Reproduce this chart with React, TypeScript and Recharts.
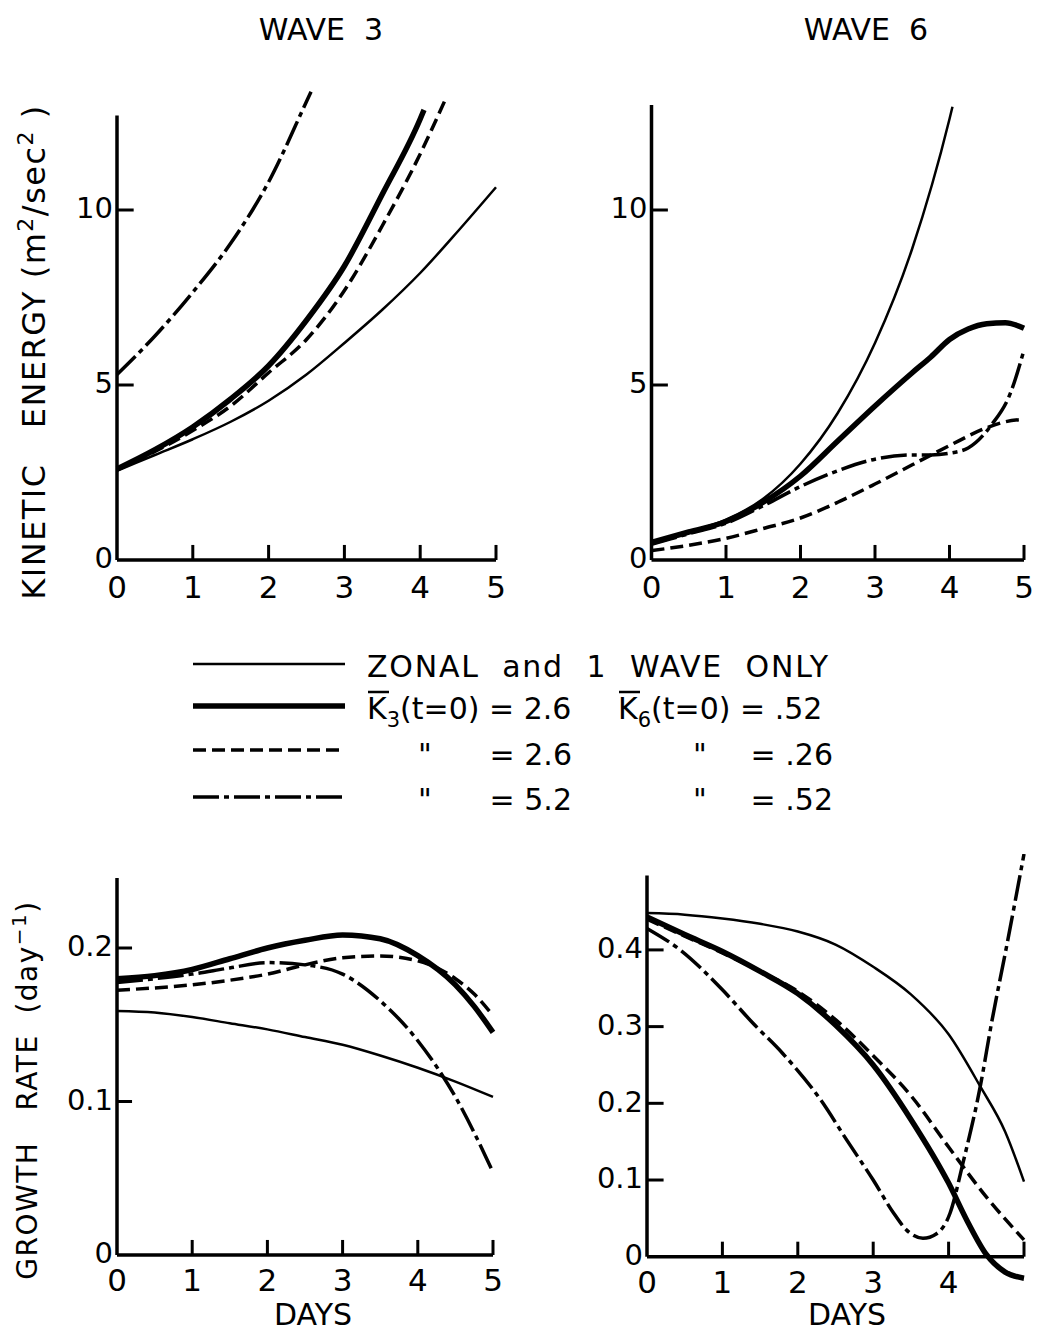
import { LineChart, Line, XAxis, YAxis, ReferenceLine } from "recharts";

type Pt = [number, number];

// Wave 3 kinetic energy (m^2/sec^2) against days
const ke3Zonal: Pt[] = [[0, 2.55], [0.5, 3.0], [1, 3.45], [1.5, 3.95], [2, 4.55], [2.5, 5.3], [3, 6.2], [3.5, 7.15], [4, 8.2], [4.5, 9.4], [5, 10.65]];
const ke3Base: Pt[] = [[0, 2.6], [0.5, 3.15], [1, 3.8], [1.5, 4.6], [2, 5.55], [2.5, 6.85], [3, 8.4], [3.5, 10.45], [4, 12.6], [4.05, 12.86]];
const ke3Half: Pt[] = [[0, 2.6], [0.5, 3.1], [1, 3.7], [1.5, 4.4], [2, 5.35], [2.5, 6.3], [3, 7.7], [3.5, 9.55], [4, 11.6], [4.32, 13.1]];
const ke3Double: Pt[] = [[0, 5.3], [0.5, 6.4], [1, 7.65], [1.5, 9.05], [2, 10.8], [2.5, 13.1], [2.56, 13.38]];

// Wave 6 kinetic energy
const ke6Zonal: Pt[] = [[0, 0.5], [0.5, 0.8], [1, 1.15], [1.5, 1.75], [2, 2.75], [2.5, 4.2], [3, 6.2], [3.5, 8.9], [4, 12.6], [4.04, 12.95]];
const ke6Base: Pt[] = [[0, 0.5], [0.5, 0.8], [1, 1.1], [1.5, 1.65], [2, 2.4], [2.5, 3.4], [3, 4.4], [3.5, 5.35], [3.75, 5.8], [4, 6.3], [4.25, 6.6], [4.5, 6.75], [4.75, 6.78], [5, 6.62]];
const ke6Half: Pt[] = [[0, 0.27], [0.5, 0.42], [1, 0.62], [1.5, 0.9], [2, 1.2], [2.5, 1.65], [3, 2.17], [3.5, 2.72], [4, 3.27], [4.5, 3.78], [4.75, 3.95], [5, 4.02]];
const ke6Double: Pt[] = [[0, 0.45], [0.5, 0.75], [1, 1.05], [1.5, 1.55], [2, 2.1], [2.5, 2.55], [3, 2.88], [3.5, 3.0], [3.75, 3.0], [4, 3.05], [4.25, 3.2], [4.56, 3.85], [4.82, 4.78], [5, 6.0]];

// Wave 3 growth rate (day^-1)
const gr3Zonal: Pt[] = [[0, 0.159], [0.5, 0.158], [1, 0.155], [1.5, 0.151], [2, 0.147], [2.5, 0.142], [3, 0.137], [3.5, 0.13], [4, 0.122], [4.5, 0.113], [5, 0.103]];
const gr3Base: Pt[] = [[0, 0.18], [0.5, 0.182], [1, 0.186], [1.5, 0.193], [2, 0.2], [2.5, 0.205], [3, 0.2085], [3.5, 0.206], [4, 0.195], [4.5, 0.176], [4.75, 0.162], [5, 0.145]];
const gr3Half: Pt[] = [[0, 0.1725], [0.5, 0.174], [1, 0.176], [1.5, 0.179], [2, 0.183], [2.5, 0.189], [3, 0.1937], [3.5, 0.1948], [4, 0.1916], [4.5, 0.18], [4.75, 0.17], [5, 0.156]];
const gr3Double: Pt[] = [[0, 0.1775], [0.5, 0.18], [1, 0.183], [1.5, 0.187], [2, 0.1905], [2.5, 0.189], [3, 0.183], [3.5, 0.1656], [4, 0.1396], [4.5, 0.103], [5, 0.054]];

// Wave 6 growth rate
const gr6Zonal: Pt[] = [[0, 0.448], [0.5, 0.446], [1, 0.441], [1.5, 0.434], [2, 0.424], [2.5, 0.407], [3, 0.378], [3.5, 0.342], [4, 0.29], [4.42, 0.222], [4.75, 0.163], [5, 0.098]];
const gr6Base: Pt[] = [[0, 0.443], [0.5, 0.42], [1, 0.398], [1.5, 0.372], [2, 0.343], [2.5, 0.302], [3, 0.25], [3.5, 0.179], [4, 0.096], [4.25, 0.046], [4.5, 0.003], [4.75, -0.02], [5, -0.028]];
const gr6Half: Pt[] = [[0, 0.44], [0.5, 0.418], [1, 0.396], [1.5, 0.372], [2, 0.346], [2.5, 0.309], [3, 0.262], [3.5, 0.21], [4, 0.143], [4.5, 0.078], [5, 0.022]];
const gr6Double: Pt[] = [[0, 0.428], [0.44, 0.4], [1, 0.348], [1.4, 0.305], [1.8, 0.265], [2.3, 0.205], [2.65, 0.152], [3, 0.1], [3.27, 0.057], [3.44, 0.035], [3.66, 0.024], [3.84, 0.03], [4.02, 0.057], [4.19, 0.122], [4.42, 0.222], [4.57, 0.305], [4.76, 0.4], [5, 0.525]];

const dayTicks = [0, 1, 2, 3, 4, 5];
const dayTicksShort = [0, 1, 2, 3, 4];
const keTicks = [0, 5, 10];
const gr3Ticks = [0, 0.1, 0.2];
const gr6Ticks = [0, 0.1, 0.2, 0.3, 0.4];

const FONT = "'DejaVu Sans', Verdana, sans-serif";

type Kind = "zonal" | "base" | "half" | "double";

const lineStyle: Record<Kind, { strokeWidth: number; strokeDasharray?: string }> = {
  zonal: { strokeWidth: 2.5 },
  base: { strokeWidth: 5.5 },
  half: { strokeWidth: 3.5, strokeDasharray: "13 6" },
  double: { strokeWidth: 3.5, strokeDasharray: "26 5 5 5" },
};

const toXY = (pts: Pt[]) => pts.map(([x, y]) => ({ x, y }));

interface PanelProps {
  left: number;
  top: number;
  width: number;
  height: number;
  margin: { top: number; right: number; bottom: number; left: number };
  yDomain: [number, number];
  yTicks: number[];
  xLabels: number[];
  yAxisTop: number;
  xTickLen: number;
  yTickLen: number;
  xLabelDy: number; // baseline of day labels, below the plot's bottom edge
  series: [Pt[], Kind][];
}

function Panel(p: PanelProps) {
  const axis = { stroke: "#000", strokeWidth: 3.5 };
  // axes take 1px of room, so the margins give that pixel back
  const m = { ...p.margin, left: p.margin.left - 1, bottom: p.margin.bottom - 1 };
  return (
    <div style={{ position: "absolute", left: p.left, top: p.top }}>
      <LineChart width={p.width} height={p.height} margin={m}>
        <XAxis
          type="number"
          dataKey="x"
          domain={[0, 5]}
          ticks={p.xLabels}
          interval={0}
          axisLine={false}
          tickLine={false}
          tickSize={0}
          tickMargin={0}
          height={1}
          tick={{ fontFamily: FONT, fontSize: 31, fill: "#000", dy: p.xLabelDy - 22 }}
        />
        <YAxis
          type="number"
          domain={p.yDomain}
          ticks={p.yTicks}
          interval={0}
          axisLine={false}
          tickLine={false}
          tickSize={0}
          tickMargin={4}
          width={1}
          tick={{ fontFamily: FONT, fontSize: 29, fill: "#000", dy: -2 }}
        />
        <ReferenceLine segment={[{ x: 0, y: 0 }, { x: 5, y: 0 }]} {...axis} />
        <ReferenceLine segment={[{ x: 0, y: 0 }, { x: 0, y: p.yAxisTop }]} {...axis} />
        {[1, 2, 3, 4, 5].map((d) => (
          <ReferenceLine key={"xt" + d} segment={[{ x: d, y: 0 }, { x: d, y: p.xTickLen }]} stroke="#000" strokeWidth={3} />
        ))}
        {p.yTicks
          .filter((v) => v > 0)
          .map((v) => (
            <ReferenceLine key={"yt" + v} segment={[{ x: 0, y: v }, { x: p.yTickLen, y: v }]} stroke="#000" strokeWidth={3} />
          ))}
        {p.series.map(([pts, kind], i) => (
          <Line
            key={i}
            data={toXY(pts)}
            dataKey="y"
            type="monotone"
            stroke="#000"
            {...lineStyle[kind]}
            dot={false}
            activeDot={false}
            isAnimationActive={false}
          />
        ))}
      </LineChart>
    </div>
  );
}

const NB = "\u00a0";

function Overlay() {
  const t = { fontFamily: FONT, fill: "#000" };
  const row2 = 719;
  const row3 = 765;
  const row4 = 810;
  return (
    <svg width={1041} height={1334} style={{ position: "absolute", left: 0, top: 0, pointerEvents: "none" }}>
      <text x={321} y={40} textAnchor="middle" fontSize={30} {...t}>{`WAVE${NB}${NB}3`}</text>
      <text x={866} y={40} textAnchor="middle" fontSize={30} {...t}>{`WAVE${NB}${NB}6`}</text>

      <text transform="translate(45,352) rotate(-90)" textAnchor="middle" fontSize={32} letterSpacing={1.5} {...t}>
        {`KINETIC${NB}${NB}${NB}ENERGY (m`}
        <tspan dy={-12} fontSize={22}>2</tspan>
        <tspan dy={12}>/sec</tspan>
        <tspan dy={-12} fontSize={22}>2</tspan>
        <tspan dy={12}>{`${NB})`}</tspan>
      </text>
      <text transform="translate(37,1090) rotate(-90)" textAnchor="middle" fontSize={28} letterSpacing={1.5} {...t}>
        {`GROWTH${NB}${NB}${NB}RATE${NB}${NB}(day`}
        <tspan dy={-11} fontSize={20}>−1</tspan>
        <tspan dy={11}>)</tspan>
      </text>

      <text x={313} y={1325} textAnchor="middle" fontSize={30} {...t}>DAYS</text>
      <text x={847} y={1325} textAnchor="middle" fontSize={30} {...t}>DAYS</text>

      {/* legend */}
      <line x1={193} x2={345} y1={664} y2={664} stroke="#000" {...lineStyle.zonal} />
      <line x1={193} x2={345} y1={706} y2={706} stroke="#000" {...lineStyle.base} />
      <line x1={193} x2={345} y1={750} y2={750} stroke="#000" {...lineStyle.half} />
      <line x1={193} x2={345} y1={797} y2={797} stroke="#000" {...lineStyle.double} />

      <text x={367} y={677} fontSize={30} textLength={461} lengthAdjust="spacing" {...t}>
        {`ZONAL${NB}${NB}and${NB}${NB}1${NB}${NB}WAVE${NB}${NB}ONLY`}
      </text>

      <line x1={368} x2={389} y1={692} y2={692} stroke="#000" strokeWidth={2.5} />
      <text x={367} y={row2} fontSize={30} {...t}>
        K<tspan dy={8} fontSize={21}>3</tspan>
        <tspan dy={-8}>(t=0) = 2.6</tspan>
      </text>
      <line x1={619} x2={640} y1={692} y2={692} stroke="#000" strokeWidth={2.5} />
      <text x={618} y={row2} fontSize={30} {...t}>
        K<tspan dy={8} fontSize={21}>6</tspan>
        <tspan dy={-8}>(t=0) = .52</tspan>
      </text>

      <text x={425} y={row3} textAnchor="middle" fontSize={30} {...t}>"</text>
      <text x={572} y={row3} textAnchor="end" fontSize={30} {...t}>= 2.6</text>
      <text x={700} y={row3} textAnchor="middle" fontSize={30} {...t}>"</text>
      <text x={833} y={row3} textAnchor="end" fontSize={30} {...t}>= .26</text>

      <text x={425} y={row4} textAnchor="middle" fontSize={30} {...t}>"</text>
      <text x={572} y={row4} textAnchor="end" fontSize={30} {...t}>= 5.2</text>
      <text x={700} y={row4} textAnchor="middle" fontSize={30} {...t}>"</text>
      <text x={833} y={row4} textAnchor="end" fontSize={30} {...t}>= .52</text>
    </svg>
  );
}

export default function App() {
  return (
    <div style={{ position: "absolute", left: 0, top: 0, width: 1041, height: 1334, background: "#fff" }}>
      <Panel
        left={0}
        top={0}
        width={520}
        height={640}
        margin={{ top: 87.5, right: 24, bottom: 80, left: 117 }}
        yDomain={[0, 13.5]}
        yTicks={keTicks}
        xLabels={dayTicks}
        yAxisTop={12.7}
        xTickLen={0.43}
        yTickLen={0.22}
        xLabelDy={38}
        series={[[ke3Zonal, "zonal"], [ke3Half, "half"], [ke3Double, "double"], [ke3Base, "base"]]}
      />
      <Panel
        left={520}
        top={0}
        width={521}
        height={640}
        margin={{ top: 87.5, right: 17, bottom: 80, left: 131.5 }}
        yDomain={[0, 13.5]}
        yTicks={keTicks}
        xLabels={dayTicks}
        yAxisTop={13.0}
        xTickLen={0.43}
        yTickLen={0.22}
        xLabelDy={38}
        series={[[ke6Zonal, "zonal"], [ke6Half, "half"], [ke6Double, "double"], [ke6Base, "base"]]}
      />
      <Panel
        left={0}
        top={640}
        width={520}
        height={694}
        margin={{ top: 231.25, right: 27, bottom: 79, left: 117 }}
        yDomain={[0, 0.25]}
        yTicks={gr3Ticks}
        xLabels={dayTicks}
        yAxisTop={0.2456}
        xTickLen={0.0098}
        yTickLen={0.2}
        xLabelDy={36}
        series={[[gr3Zonal, "zonal"], [gr3Half, "half"], [gr3Double, "double"], [gr3Base, "base"]]}
      />
      <Panel
        left={520}
        top={640}
        width={521}
        height={694}
        margin={{ top: 210.2, right: 17, bottom: 46.6, left: 127 }}
        yDomain={[-0.04, 0.53]}
        yTicks={gr6Ticks}
        xLabels={dayTicksShort}
        yAxisTop={0.497}
        xTickLen={0.0196}
        yTickLen={0.22}
        xLabelDy={6}
        series={[[gr6Zonal, "zonal"], [gr6Half, "half"], [gr6Double, "double"], [gr6Base, "base"]]}
      />
      <Overlay />
    </div>
  );
}
